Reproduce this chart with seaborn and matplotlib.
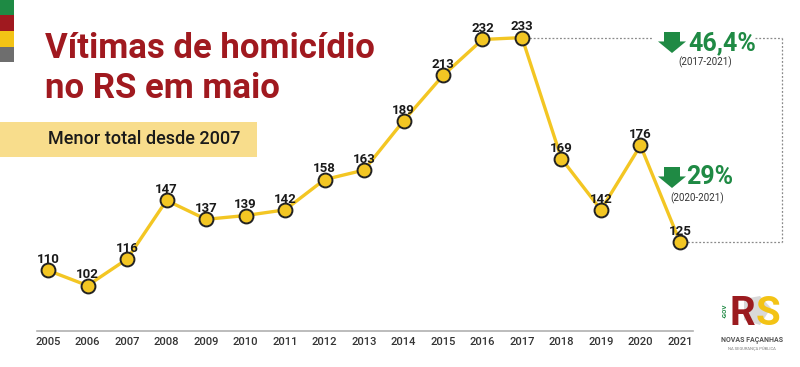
import matplotlib
matplotlib.use("Agg")
import matplotlib.pyplot as plt
import seaborn as sns
import pandas as pd
from matplotlib.patches import Rectangle, Polygon

years = [2005, 2006, 2007, 2008, 2009, 2010, 2011, 2012, 2013,
         2014, 2015, 2016, 2017, 2018, 2019, 2020, 2021]
victims = [110, 102, 116, 147, 137, 139, 142, 158, 163,
           189, 213, 232, 233, 169, 142, 176, 125]
title_lines = ["Vítimas de homicídio", "no RS em maio"]
subtitle = "Menor total desde 2007"
drop_long = "46,4%"
drop_long_period = "(2017-2021)"
drop_short = "29%"
drop_short_period = "(2020-2021)"

sns.set_style("white")
plt.rcParams["font.family"] = ["Roboto", "DejaVu Sans"]

W, H = 800, 367
fig = plt.figure(figsize=(W / 100, H / 100), dpi=100)
fig.patch.set_facecolor("white")


def fx(px):
    return px / W


def fy(py):
    return 1 - py / H


ax = fig.add_axes([fx(37), fy(331), (693 - 37) / W, (331 - 20) / H])
df = pd.DataFrame({"ano": years, "vitimas": victims})

YELLOW = "#f3c623"
GREEN = "#1f8a44"
DARKRED = "#a0191f"

sns.lineplot(data=df, x="ano", y="vitimas", ax=ax, color=YELLOW, lw=2.4,
             marker="o", markersize=10, markerfacecolor=YELLOW,
             markeredgecolor="#222222", markeredgewidth=1.4, zorder=3)

ax.set_xlim(2004.72, 2021.33)
ax.set_ylim(78, 242.3)
ax.set_xticks(years)
ax.set_xticklabels([str(y) for y in years], fontsize=8, color="#333333",
                   fontweight="medium")
ax.set_yticks([])
ax.set_xlabel("")
ax.set_ylabel("")
for s in ["top", "right", "left"]:
    ax.spines[s].set_visible(False)
ax.spines["bottom"].set_color("#b0b0b0")
ax.spines["bottom"].set_linewidth(1.2)
ax.tick_params(axis="x", length=0, pad=4)
ax.patch.set_alpha(0)

for x, v in zip(years, victims):
    ax.annotate(str(v), (x, v), xytext=(0, 3), textcoords="offset points",
                ha="center", va="bottom", fontsize=9.5, fontweight="bold",
                color="#1a1a1a", zorder=4)

# dotted comparison bracket
px_per_year = 39.5


def dx(px):
    return 2005 + (px - 48) / px_per_year


dot_kw = dict(color="#8a8a8a", lw=0.9, ls=(0, (1.5, 1.5)), clip_on=False, zorder=1)
y_hi = victims[years.index(2017)]
y_lo = victims[-1]
ax.plot([2017, dx(653)], [y_hi, y_hi], **dot_kw)
ax.plot([dx(755), dx(782)], [y_hi, y_hi], **dot_kw)
ax.plot([dx(782), dx(782)], [y_hi, y_lo], **dot_kw)
ax.plot([years[-1], dx(782)], [y_lo, y_lo], **dot_kw)


# green arrows
def down_arrow(cx, top, bottom):
    sw, hw = 8, 14
    mid = top + (bottom - top) * 0.45
    pts = [(cx - sw, top), (cx + sw, top), (cx + sw, mid), (cx + hw, mid),
           (cx, bottom), (cx - hw, mid), (cx - sw, mid)]
    fig.patches.append(Polygon([(fx(a), fy(b)) for a, b in pts], closed=True,
                               transform=fig.transFigure, facecolor=GREEN,
                               edgecolor="none"))


down_arrow(672, 32, 53)
fig.text(fx(688), fy(43), drop_long, fontsize=18, fontweight="bold",
         color=GREEN, ha="left", va="center")
fig.text(fx(705), fy(62), drop_long_period, fontsize=7, color="#333333",
         ha="center", va="center")
down_arrow(672, 167, 188)
fig.text(fx(686), fy(177), drop_short, fontsize=18, fontweight="bold",
         color=GREEN, ha="left", va="center")
fig.text(fx(697), fy(198), drop_short_period, fontsize=7, color="#333333",
         ha="center", va="center")

# left colour stripes
for (y0, y1, c) in [(0, 15, "#1e8a44"), (15, 31, "#a0191f"),
                    (31, 47, "#f3c315"), (47, 62, "#6e6e6e")]:
    fig.patches.append(Rectangle((0, fy(y1)), fx(14), (y1 - y0) / H,
                                 transform=fig.transFigure, facecolor=c,
                                 edgecolor="none"))

# title
for line, base in zip(title_lines, [58, 98]):
    fig.text(fx(45), fy(base), line, fontsize=25, fontweight="bold",
             color=DARKRED, ha="left", va="baseline")

# subtitle box
fig.patches.append(Rectangle((0, fy(157)), fx(257), (157 - 122) / H,
                             transform=fig.transFigure, facecolor="#f8dd8c",
                             edgecolor="none"))
fig.text(fx(48), fy(139.5), subtitle, fontsize=13, fontweight="medium",
         color="#1a1a1a", ha="left", va="center")

# logo (approximation)
fig.text(fx(725), fy(311), "·GOV", fontsize=4.5, color=GREEN, rotation=90,
         ha="center", va="center", fontweight="bold")
fig.patches.append(Polygon([(fx(a), fy(b)) for a, b in
                            [(744, 299), (760, 296), (771, 308), (760, 325),
                             (744, 320)]],
                           closed=True, transform=fig.transFigure,
                           facecolor="#d9d9d9", edgecolor="none", zorder=0))
fig.text(fx(730), fy(325), "R", fontsize=29, fontweight="bold", color="#9b1b1f",
         ha="left", va="baseline")
fig.text(fx(756), fy(325), "S", fontsize=29, fontweight="bold", color="#f3c315",
         ha="left", va="baseline")
fig.text(fx(752), fy(340), "NOVAS FAÇANHAS", fontsize=5, fontweight="bold",
         color="#555555", ha="center", va="center")
fig.text(fx(752), fy(349), "NA SEGURANÇA PÚBLICA", fontsize=3, color="#777777",
         ha="center", va="center")

fig.savefig("out.png", dpi=100, facecolor="white")
